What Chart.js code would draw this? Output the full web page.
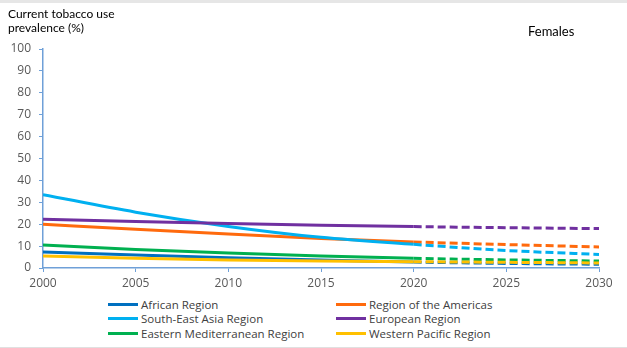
<!DOCTYPE html>
<html>
<head>
<meta charset="utf-8">
<script src="https://cdn.jsdelivr.net/npm/chart.js@4"></script>
<style>
	body { margin: 0; background: #fff; }
	#wrap { position: relative; width: 627px; height: 348px; box-sizing: border-box; border-top: 3px solid #e6e6e6; }
	#box { position: absolute; left: 0; top: 0; width: 627px; height: 292px; }
	#ytitle { position: absolute; left: 8px; top: 4px; font: 12px Lato, sans-serif; line-height: 14px; color: #000; }
	#sub { position: absolute; left: 528px; top: 20px; font: 13px Lato, sans-serif; color: #000; }
	#legend { position: absolute; left: 108px; top: 294px; display: grid; grid-template-columns: 228px 240px; row-gap: 0; font: 11.5px "Open Sans", sans-serif; color: #404040; }
	#legend div { display: flex; align-items: center; height: 14.5px; white-space: nowrap; }
	#legend span { display: inline-block; width: 30px; height: 3px; margin-right: 3px; }
	#foot { position: absolute; left: 0; top: 344px; width: 627px; height: 2px; background: #e0e0e0; }
</style>
</head>
<body>
<div id="wrap">
	<div id="box"><canvas id="myChart"></canvas></div>
	<div id="ytitle">Current tobacco use<br>prevalence (%)</div>
	<div id="sub">Females</div>
	<div id="legend"></div>
	<div id="foot"></div>
</div>
<script>
const years = [2000, 2005, 2010, 2015, 2020, 2025, 2030];
const regions = ["African Region", "Region of the Americas", "South-East Asia Region", "European Region", "Eastern Mediterranean Region", "Western Pacific Region"];
const african = [7.3, 5.9, 4.7, 3.7, 2.7, 2.1, 1.7];
const americas = [20.0, 17.7, 15.5, 13.5, 11.9, 10.7, 9.6];
const seAsia = [33.5, 25.5, 19.0, 14.0, 10.8, 8.0, 6.2];
const european = [22.3, 21.2, 20.3, 19.5, 18.9, 18.4, 18.0];
const eastMed = [10.5, 8.5, 6.8, 5.5, 4.4, 3.7, 3.2];
const westPac = [5.5, 4.5, 3.7, 3.2, 2.9, 2.6, 2.3];
const yTicks = [0, 10, 20, 30, 40, 50, 60, 70, 80, 90, 100];
const lastObserved = 2020;

const series = [african, americas, seAsia, european, eastMed, westPac];
const colors = ["#0070c0", "#ff6a0d", "#00b0f0", "#7030a0", "#00b050", "#ffc000"];
const axisColor = "#6fa0d8";

let datasets = series.map((vals, i) => ({
	label: regions[i],
	data: vals.map((v, j) => ({ x: years[j], y: v })),
	borderColor: colors[i],
	borderWidth: 3,
	pointRadius: 0,
	fill: false,
	cubicInterpolationMode: "monotone",
	segment: {
		borderDash: ctx => ctx.p0.parsed.x >= lastObserved ? [8, 4] : undefined
	}
}));

// draw in reverse so the first series sits on top like the original
datasets = datasets.reverse();

new Chart("myChart", {
	type: "line",
	data: { datasets: datasets },
	options: {
		responsive: true,
		maintainAspectRatio: false,
		animation: false,
		layout: { padding: { top: 46, right: 28, left: 0, bottom: 0 } },
		plugins: { legend: { display: false }, tooltip: { enabled: false } },
		scales: {
			x: {
				type: "linear",
				min: 2000,
				max: 2030,
				border: { color: axisColor, width: 1.5 },
				grid: { drawOnChartArea: false, drawTicks: true, tickLength: 4, color: axisColor },
				ticks: {
					stepSize: 5,
					padding: 4,
					color: "#595959",
					font: { family: "Open Sans", size: 12 },
					callback: v => String(v)
				},
				afterFit: s => { s.height = 27; }
			},
			y: {
				min: 0,
				max: 100,
				border: { color: axisColor, width: 1.5 },
				grid: { drawOnChartArea: false, drawTicks: true, tickLength: 4, color: axisColor },
				afterBuildTicks: s => { s.ticks = yTicks.map(v => ({ value: v })); },
				ticks: {
					padding: 8,
					color: "#595959",
					font: { family: "Open Sans", size: 12 }
				},
				afterFit: s => { s.width = 43; }
			}
		}
	}
});

const legend = document.getElementById("legend");
regions.forEach((name, i) => {
	const item = document.createElement("div");
	const swatch = document.createElement("span");
	swatch.style.background = colors[i];
	item.appendChild(swatch);
	item.appendChild(document.createTextNode(name));
	legend.appendChild(item);
});
</script>
</body>
</html>
